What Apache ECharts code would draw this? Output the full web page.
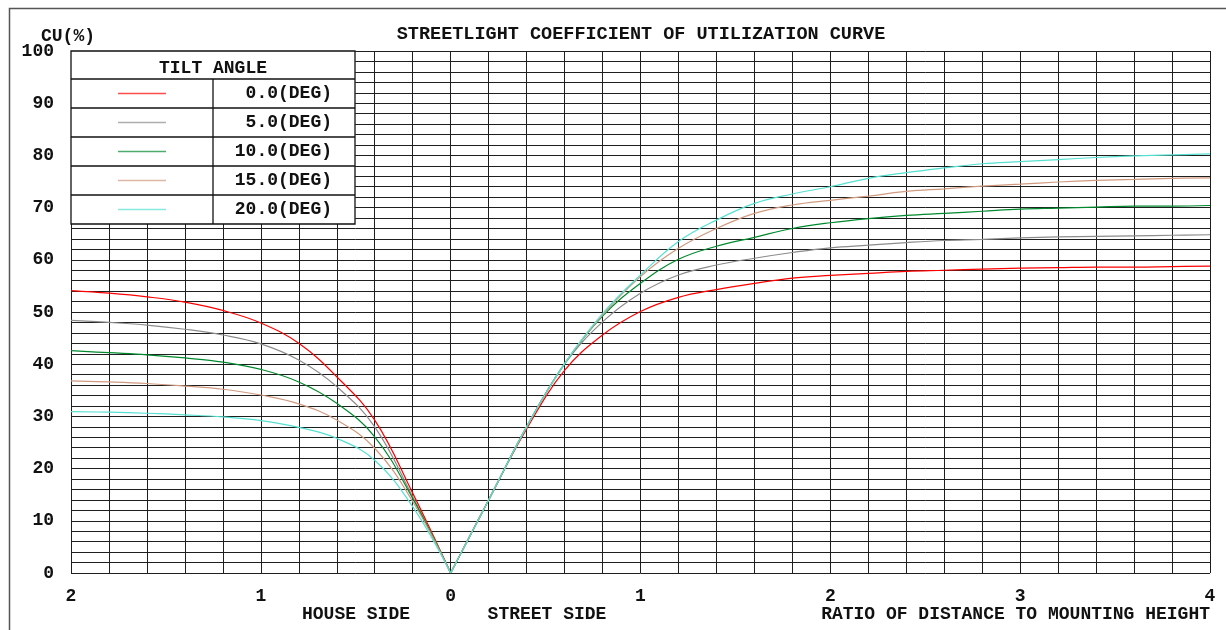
<!DOCTYPE html>
<html>
<head>
<meta charset="utf-8">
<script src="https://cdn.jsdelivr.net/npm/echarts@6/dist/echarts.min.js"></script>
<style>
html,body{margin:0;padding:0;background:#fff;}
#chart{width:1226px;height:630px;}
</style>
</head>
<body>
<div id="chart"></div>
<script>
// ---------- DATA ----------
const titleText = 'STREETLIGHT COEFFICIENT OF UTILIZATION CURVE';
const yAxisTitle = 'CU(%)';
const legendTitle = 'TILT ANGLE';
const tiltLabels = ['0.0(DEG)', '5.0(DEG)', '10.0(DEG)', '15.0(DEG)', '20.0(DEG)'];
const houseLabel = 'HOUSE SIDE';
const streetLabel = 'STREET SIDE';
const ratioLabel = 'RATIO OF DISTANCE TO MOUNTING HEIGHT';

// distances (ratio of distance to mounting height)
const houseDist  = [2.0, 1.8, 1.6, 1.4, 1.2, 1.0, 0.8, 0.6, 0.4, 0.2, 0.0];
const streetDist = [0.0, 0.2, 0.4, 0.6, 0.8, 1.0, 1.2, 1.4, 1.6, 1.8, 2.0, 2.2, 2.4, 2.6, 2.8, 3.0, 3.2, 3.4, 3.6, 3.8, 4.0];

// house side CU (%)
const house0  = [54.1, 53.6, 52.9, 51.9, 50.3, 47.9, 44.0, 37.6, 29.3, 15.3, 0];
const house5  = [48.4, 48.0, 47.5, 46.7, 45.6, 43.9, 40.8, 35.7, 28.0, 14.6, 0];
const house10 = [42.6, 42.2, 41.8, 41.2, 40.4, 39.0, 36.6, 32.5, 26.1, 14.3, 0];
const house15 = [36.8, 36.6, 36.3, 35.8, 35.2, 34.1, 32.4, 29.3, 23.9, 13.7, 0];
const house20 = [30.9, 30.8, 30.6, 30.3, 29.9, 29.2, 27.9, 25.8, 21.6, 12.7, 0];

// street side CU (%)
const street0  = [0, 14.0, 27.6, 38.8, 45.6, 50.1, 52.8, 54.3, 55.5, 56.5, 57.0, 57.4, 57.8, 58.0, 58.2, 58.4, 58.5, 58.6, 58.6, 58.7, 58.8];
const street5  = [0, 14.0, 28.0, 40.0, 48.1, 53.6, 57.1, 59.0, 60.3, 61.4, 62.3, 62.8, 63.3, 63.7, 63.9, 64.2, 64.4, 64.5, 64.6, 64.7, 64.8];
const street10 = [0, 14.0, 28.0, 40.1, 49.2, 55.5, 60.1, 62.6, 64.3, 66.0, 67.1, 67.9, 68.5, 68.9, 69.3, 69.7, 69.9, 70.1, 70.3, 70.3, 70.4];
const street15 = [0, 14.0, 28.0, 40.1, 49.4, 56.8, 62.2, 66.0, 68.9, 70.5, 71.4, 72.2, 73.1, 73.6, 74.1, 74.5, 74.9, 75.2, 75.4, 75.6, 75.7];
const street20 = [0, 14.0, 28.0, 40.1, 49.7, 57.1, 63.5, 67.6, 70.8, 72.6, 74.0, 75.6, 76.7, 77.6, 78.4, 78.8, 79.2, 79.6, 79.9, 80.1, 80.3];

const houseSeries  = [house0, house5, house10, house15, house20];
const streetSeries = [street0, street5, street10, street15, street20];

// ---------- STYLE ----------
const colors = ['#ff0000', '#8c8c8c', '#008a2e', '#d09a80', '#55e0d0'];
const FONT = '"Liberation Mono", "Courier New", monospace';
const gridColor = '#1e1e1e';

const series = [];
for (let i = 0; i < tiltLabels.length; i++) {
  series.push({
    name: tiltLabels[i], type: 'line', smooth: 0.4, symbol: 'none',
    lineStyle: { color: colors[i], width: 1.2 }, z: 3,
    data: houseDist.map((d, j) => [-d, houseSeries[i][j]])
  });
  series.push({
    name: tiltLabels[i], type: 'line', smooth: 0.4, symbol: 'none',
    lineStyle: { color: colors[i], width: 1.2 }, z: 3,
    data: streetDist.map((d, j) => [d, streetSeries[i][j]])
  });
}

// legend table graphics
const LX0 = 71, LX1 = 355, LXC = 213, LY0 = 51, HEAD_H = 28, ROW_H = 29;
const legendGraphics = [];
const tableH = HEAD_H + ROW_H * tiltLabels.length;
legendGraphics.push({
  type: 'rect', shape: { x: LX0, y: LY0, width: LX1 - LX0, height: tableH },
  style: { fill: '#fff', stroke: '#111', lineWidth: 1.3 }, z: 10
});
legendGraphics.push({
  type: 'text', x: (LX0 + LX1) / 2, y: LY0 + HEAD_H / 2 + 3,
  style: { text: legendTitle, font: 'bold 18px ' + FONT, fill: '#111', textAlign: 'center', textVerticalAlign: 'middle' }, z: 11
});
legendGraphics.push({
  type: 'line', shape: { x1: LXC, y1: LY0 + HEAD_H, x2: LXC, y2: LY0 + tableH },
  style: { stroke: '#111', lineWidth: 1.3 }, z: 11
});
for (let i = 0; i < tiltLabels.length; i++) {
  const top = LY0 + HEAD_H + ROW_H * i;
  legendGraphics.push({
    type: 'line', shape: { x1: LX0, y1: top, x2: LX1, y2: top },
    style: { stroke: '#111', lineWidth: 1.3 }, z: 11
  });
  const cy = top + ROW_H / 2;
  legendGraphics.push({
    type: 'line', shape: { x1: 118, y1: cy, x2: 166, y2: cy },
    style: { stroke: colors[i], lineWidth: 1.5, opacity: 0.7 }, z: 11
  });
  legendGraphics.push({
    type: 'text', x: 332, y: cy,
    style: { text: tiltLabels[i], font: 'bold 18px ' + FONT, fill: '#111', textAlign: 'right', textVerticalAlign: 'middle' }, z: 11
  });
}

const chart = echarts.init(document.getElementById('chart'), null, { renderer: 'canvas' });
chart.setOption({
  backgroundColor: '#fff',
  animation: false,
  title: {
    text: titleText, left: 641, textAlign: 'center', top: 25, padding: 0,
    textStyle: { fontFamily: FONT, fontWeight: 'bold', fontSize: 18.5, color: '#111' }
  },
  grid: { left: 71, right: 16, top: 51, bottom: 57, containLabel: false },
  xAxis: {
    type: 'value', min: -2, max: 4, interval: 0.2,
    axisLine: { show: false }, axisTick: { show: false },
    splitLine: { show: true, lineStyle: { color: gridColor, width: 1 } },
    axisLabel: {
      margin: 14, fontFamily: FONT, fontWeight: 'bold', fontSize: 18, color: '#111',
      formatter: v => Math.abs(v - Math.round(v)) < 1e-6 ? String(Math.abs(Math.round(v))) : ''
    }
  },
  yAxis: {
    type: 'value', min: 0, max: 100, interval: 2,
    axisLine: { show: false }, axisTick: { show: false },
    splitLine: { show: true, lineStyle: { color: gridColor, width: 1 } },
    axisLabel: {
      margin: 17, fontFamily: FONT, fontWeight: 'bold', fontSize: 18, color: '#111',
      formatter: v => (Math.round(v) % 10 === 0 ? String(Math.round(v)) : '')
    }
  },
  series: series,
  graphic: [
    { type: 'rect', shape: { x: 9.5, y: 8.5, width: 1400, height: 800 },
      style: { fill: null, stroke: '#555', lineWidth: 1.5 }, z: 0, silent: true },
    { type: 'text', x: 41, y: 36,
      style: { text: yAxisTitle, font: 'bold 18px ' + FONT, fill: '#111', textVerticalAlign: 'middle' } },
    { type: 'text', x: 356, y: 614,
      style: { text: houseLabel, font: 'bold 18px ' + FONT, fill: '#111', textAlign: 'center', textVerticalAlign: 'middle' } },
    { type: 'text', x: 547, y: 614,
      style: { text: streetLabel, font: 'bold 18px ' + FONT, fill: '#111', textAlign: 'center', textVerticalAlign: 'middle' } },
    { type: 'text', x: 1210, y: 614,
      style: { text: ratioLabel, font: 'bold 18px ' + FONT, fill: '#111', textAlign: 'right', textVerticalAlign: 'middle' } }
  ].concat(legendGraphics)
});
</script>
</body>
</html>
